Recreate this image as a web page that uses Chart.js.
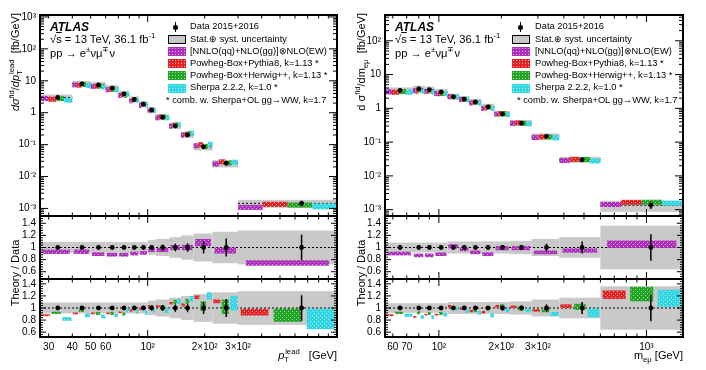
<!DOCTYPE html>
<html>
<head>
<meta charset="utf-8">
<title>WW fiducial differential cross sections</title>
<script src="https://cdn.jsdelivr.net/npm/chart.js@4.4.1/dist/chart.umd.min.js"></script>
<style>
  body { margin: 0; background: #fff; }
  #wrap { position: relative; width: 706px; height: 370px; overflow: hidden;
          font-family: "Liberation Sans", Arial, Helvetica, sans-serif; color: #000; }
  #wrap canvas { position: absolute; }
  .t { position: absolute; white-space: nowrap; line-height: 1; }
  .atlas { font-weight: bold; font-style: italic; font-size: 12px; }
  .lab { font-size: 11.2px; }
  .leg { font-size: 9.3px; }
  .sym { position: absolute; width: 18px; height: 9px; box-sizing: border-box; }
  .gray { background: #c9c9c9; border: 1px solid #000; }
  .hatch { background-image: radial-gradient(circle, rgba(255,255,255,0.6) 0.7px, transparent 0.9px);
           background-size: 3px 3px; }
  .dot { position: absolute; width: 5px; height: 5px; border-radius: 50%; background: #000; }
  .bar { position: absolute; width: 1.5px; height: 10px; background: #000; }
  .ytitle { position: absolute; transform-origin: 0 0; transform: rotate(-90deg);
            white-space: nowrap; font-size: 11px; line-height: 1; }
  .xtitle { position: absolute; white-space: nowrap; font-size: 11px; line-height: 1; }
  sup, sub { font-size: 70%; line-height: 0; }
</style>
</head>
<body>
<div id="wrap">
  <canvas id="ptMain" width="345" height="220" style="left:0;top:0"></canvas>
  <canvas id="ptR1" width="345" height="71" style="left:0;top:212px"></canvas>
  <canvas id="ptR2" width="345" height="95" style="left:0;top:275px"></canvas>
  <canvas id="mMain" width="361" height="220" style="left:345px;top:0"></canvas>
  <canvas id="mR1" width="361" height="71" style="left:345px;top:212px"></canvas>
  <canvas id="mR2" width="361" height="95" style="left:345px;top:275px"></canvas>

  <!-- left panel labels -->
  <div class="t atlas" style="left:50px;top:21px">ATLAS</div>
  <div class="t lab" style="left:50px;top:34px">√<span style="text-decoration:overline">s</span> = 13 TeV, 36.1 fb<sup>-1</sup></div>
  <div class="t lab" style="left:50px;top:48px">pp → e<sup>±</sup>νμ<sup>∓</sup>ν</div>

  <div class="bar" style="left:174.5px;top:22px"></div><div class="dot" style="left:173px;top:24.5px"></div>
  <div class="t leg" style="left:190px;top:22px">Data 2015+2016</div>
  <div class="sym gray" style="left:168px;top:35px"></div>
  <div class="t leg" style="left:190px;top:34.5px">Stat.⊕ syst. uncertainty</div>
  <div class="sym hatch" style="left:168px;top:47px;background-color:rgb(172,48,188)"></div>
  <div class="t leg" style="left:190px;top:46.5px">[NNLO(qq)+NLO(gg)]⊗NLO(EW)</div>
  <div class="sym hatch" style="left:168px;top:59px;background-color:rgb(226,36,36)"></div>
  <div class="t leg" style="left:190px;top:58.5px">Powheg-Box+Pythia8, k=1.13 *</div>
  <div class="sym hatch" style="left:168px;top:71px;background-color:rgb(34,164,38)"></div>
  <div class="t leg" style="left:190px;top:70.5px">Powheg-Box+Herwig++, k=1.13 *</div>
  <div class="sym hatch" style="left:168px;top:83.5px;background-color:rgb(48,214,226)"></div>
  <div class="t leg" style="left:190px;top:83px">Sherpa 2.2.2, k=1.0 *</div>
  <div class="t leg" style="left:166px;top:95.5px">* comb. w. Sherpa+OL gg→WW, k=1.7</div>

  <!-- right panel labels -->
  <div class="t atlas" style="left:395px;top:21px">ATLAS</div>
  <div class="t lab" style="left:395px;top:34px">√<span style="text-decoration:overline">s</span> = 13 TeV, 36.1 fb<sup>-1</sup></div>
  <div class="t lab" style="left:395px;top:48px">pp → e<sup>±</sup>νμ<sup>∓</sup>ν</div>

  <div class="bar" style="left:519.5px;top:22px"></div><div class="dot" style="left:518px;top:24.5px"></div>
  <div class="t leg" style="left:535px;top:22px">Data 2015+2016</div>
  <div class="sym gray" style="left:512px;top:35px"></div>
  <div class="t leg" style="left:535px;top:34.5px">Stat.⊕ syst. uncertainty</div>
  <div class="sym hatch" style="left:512px;top:47px;background-color:rgb(172,48,188)"></div>
  <div class="t leg" style="left:535px;top:46.5px">[NNLO(qq)+NLO(gg)]⊗NLO(EW)</div>
  <div class="sym hatch" style="left:512px;top:59px;background-color:rgb(226,36,36)"></div>
  <div class="t leg" style="left:535px;top:58.5px">Powheg-Box+Pythia8, k=1.13 *</div>
  <div class="sym hatch" style="left:512px;top:71px;background-color:rgb(34,164,38)"></div>
  <div class="t leg" style="left:535px;top:70.5px">Powheg-Box+Herwig++, k=1.13 *</div>
  <div class="sym hatch" style="left:512px;top:83.5px;background-color:rgb(48,214,226)"></div>
  <div class="t leg" style="left:535px;top:83px">Sherpa 2.2.2, k=1.0 *</div>
  <div class="t leg" style="left:517px;top:95.5px">* comb. w. Sherpa+OL gg→WW, k=1.7</div>

  <!-- axis titles -->
  <div class="ytitle" style="left:10px;top:216px;width:203px;text-align:right"><i>dσ</i><sup>fid</sup>/<i>dp</i><sub>T</sub><sup style="margin-left:-0.5em">lead</sup>&nbsp;&nbsp;[fb/GeV]</div>
  <div class="ytitle" style="left:10px;top:333px;width:120px;text-align:center">Theory / Data</div>
  <div class="ytitle" style="left:356px;top:216px;width:203px;text-align:right">d σ<sup>fid</sup>/dm<sub>eμ</sub>&nbsp;&nbsp;[fb/GeV]</div>
  <div class="ytitle" style="left:356px;top:333px;width:120px;text-align:center">Theory / Data</div>
  <div class="xtitle" style="right:369px;top:350px"><i>p</i><sub>T</sub><sup style="margin-left:-0.5em">lead</sup>&nbsp;&nbsp;&nbsp;[GeV]</div>
  <div class="xtitle" style="right:23px;top:350px">m<sub>eμ</sub> [GeV]</div>
</div>

<script>
// leading lepton pT: bin edges [GeV] and measured cross section [fb/GeV]
const ptEdges = [27, 40, 50, 60, 70, 80, 90, 100, 110, 130, 150, 175, 220, 300, 1000];
const ptData = [3.0, 8.0, 7.4, 5.9, 3.9, 2.6, 1.84, 1.2, 0.72, 0.38, 0.20, 0.085, 0.026, 0.00145];
const ptUnc = [0.09, 0.09, 0.09, 0.09, 0.09, 0.09, 0.09, 0.12, 0.14, 0.17, 0.20, 0.23, 0.26, 0.28];
const ptStat = [0.015, 0.015, 0.015, 0.015, 0.02, 0.025, 0.03, 0.04, 0.05, 0.06, 0.07, 0.10, 0.15, 0.21];
// theory / data ratios and their half widths
const ptNnlo = [0.93, 0.93, 0.89, 0.88, 0.88, 0.90, 0.91, 0.96, 0.96, 1.00, 1.00, 1.08, 0.95, 0.745];
const ptNnloErr = [0.035, 0.035, 0.03, 0.03, 0.03, 0.03, 0.03, 0.035, 0.035, 0.04, 0.045, 0.06, 0.05, 0.045];
const ptPythia = [0.88, 0.91, 0.91, 0.91, 0.93, 0.96, 0.99, 1.03, 1.03, 1.08, 1.05, 1.18, 1.11, 0.93];
const ptPythiaErr = [0.015, 0.015, 0.015, 0.015, 0.015, 0.02, 0.02, 0.02, 0.02, 0.02, 0.025, 0.03, 0.03, 0.055];
const ptHerwig = [0.92, 0.96, 0.91, 0.91, 0.90, 0.99, 1.00, 1.02, 1.02, 1.10, 1.11, 1.03, 1.02, 0.88];
const ptHerwigErr = [0.02, 0.025, 0.025, 0.025, 0.025, 0.025, 0.03, 0.03, 0.03, 0.035, 0.04, 0.08, 0.12, 0.11];
const ptSherpa = [0.82, 0.88, 0.86, 0.88, 0.96, 0.94, 0.92, 0.96, 0.96, 1.11, 1.15, 1.20, 1.08, 0.82];
const ptSherpaErr = [0.03, 0.03, 0.03, 0.03, 0.03, 0.03, 0.035, 0.035, 0.04, 0.045, 0.05, 0.06, 0.12, 0.17];

// e-mu invariant mass
const mEdges = [55, 75, 85, 95, 110, 125, 140, 160, 185, 220, 280, 380, 600, 1500];
const mData = [3.4, 3.8, 3.6, 3.05, 2.2, 1.87, 1.56, 1.11, 0.68, 0.365, 0.148, 0.030, 0.00135];
const mUnc = [0.08, 0.08, 0.08, 0.08, 0.10, 0.10, 0.10, 0.10, 0.10, 0.11, 0.14, 0.17, 0.36];
const mStat = [0.015, 0.015, 0.015, 0.015, 0.03, 0.03, 0.03, 0.03, 0.04, 0.04, 0.06, 0.10, 0.22];
const mNnlo = [0.90, 0.87, 0.87, 0.89, 1.02, 0.97, 0.92, 0.89, 0.99, 0.99, 0.92, 0.95, 1.055];
const mNnloErr = [0.03, 0.03, 0.03, 0.03, 0.035, 0.03, 0.03, 0.03, 0.035, 0.035, 0.03, 0.035, 0.06];
const mPythia = [0.88, 0.85, 0.89, 0.89, 1.03, 0.99, 0.95, 0.93, 1.03, 1.02, 0.96, 1.03, 1.22];
const mPythiaErr = [0.015, 0.015, 0.015, 0.015, 0.02, 0.02, 0.02, 0.02, 0.02, 0.02, 0.02, 0.03, 0.07];
const mHerwig = [0.92, 0.92, 0.91, 0.91, 1.00, 1.00, 0.96, 0.99, 1.03, 0.99, 0.96, 1.02, 1.23];
const mHerwigErr = [0.02, 0.025, 0.025, 0.025, 0.025, 0.025, 0.025, 0.03, 0.03, 0.03, 0.03, 0.05, 0.12];
const mSherpa = [0.88, 0.85, 0.85, 0.89, 0.99, 0.95, 0.92, 0.88, 0.96, 0.96, 0.90, 0.92, 1.16];
const mSherpaErr = [0.025, 0.03, 0.03, 0.03, 0.03, 0.03, 0.03, 0.035, 0.03, 0.03, 0.035, 0.07, 0.14];

// tick labels
const ptXTicks = [30, 40, 50, 60, 100, 200, 300];
const ptXLabels = ['30', '40', '50', '60', '10²', '2×10²', '3×10²'];
const mXTicks = [60, 70, 100, 200, 300, 1000];
const mXLabels = ['60', '70', '10²', '2×10²', '3×10²', '10³'];
const ptYTicks = [1e-3, 1e-2, 1e-1, 1, 10, 100, 1000];
const ptYLabels = ['10⁻³', '10⁻²', '10⁻¹', '1', '10', '10²', '10³'];
const mYTicks = [1e-3, 1e-2, 1e-1, 1, 10, 100];
const mYLabels = ['10⁻³', '10⁻²', '10⁻¹', '1', '10', '10²'];
const ratioTicks = [0.6, 0.8, 1, 1.2, 1.4];
const ratioLabels = ['0.6', '0.8', '1', '1.2', '1.4'];

const PURPLE = 'rgb(172,48,188)', RED = 'rgb(226,36,36)', GREEN = 'rgb(34,164,38)', CYAN = 'rgb(48,214,226)';
const BAND = '#c9c9c9';
const FONT = { family: '"Liberation Sans", Arial, sans-serif', size: 10 };

function hatch(ctx, color) {
  const c = document.createElement('canvas');
  c.width = 4; c.height = 4;
  const g = c.getContext('2d');
  g.fillStyle = color;
  g.fillRect(0, 0, 4, 4);
  g.fillStyle = 'rgba(255,255,255,0.55)';
  g.fillRect(0, 0, 1, 1);
  g.fillRect(2, 2, 1, 1);
  return ctx.createPattern(c, 'repeat');
}

function logTicks(min, max) {
  const major = [], minor = [];
  for (let e = Math.floor(Math.log10(min)); e <= Math.ceil(Math.log10(max)); e++) {
    for (let m = 1; m < 10; m++) {
      const v = m * Math.pow(10, e);
      if (v < min * 0.999 || v > max * 1.001) continue;
      (m === 1 ? major : minor).push(v);
    }
  }
  return { major, minor };
}

function linTicks(min, max) {
  const major = [], minor = [];
  for (let k = Math.ceil(min / 0.04 - 1e-6); k <= Math.floor(max / 0.04 + 1e-6); k++) {
    const v = +(k * 0.04).toFixed(2);
    const isMajor = Math.abs(v * 5 - Math.round(v * 5)) < 1e-6;
    (isMajor ? major : minor).push(v);
  }
  return { major, minor };
}

// draws bands, theory boxes, error bars, frame and inward ticks of one panel
function panelPlugin(spec) {
  return {
    id: 'atlasPanel',
    beforeDatasetsDraw(chart) {
      const ctx = chart.ctx, xs = chart.scales.x, ys = chart.scales.y, a = chart.chartArea;
      const main = spec.kind === 'main';
      const px = spec.edges.map(v => xs.getPixelForValue(v));
      const ref = i => main ? spec.data[i] : 1;
      ctx.save();
      ctx.beginPath();
      ctx.rect(a.left, a.top, a.right - a.left, a.bottom - a.top);
      ctx.clip();

      ctx.fillStyle = BAND;
      spec.data.forEach((d, i) => {
        const yc = ys.getPixelForValue(ref(i));
        let y1 = ys.getPixelForValue(ref(i) * (1 + spec.unc[i]));
        let y2 = ys.getPixelForValue(ref(i) * (1 - spec.unc[i]));
        if (main) { y1 = Math.min(y1, yc - 3); y2 = Math.max(y2, yc + 3); }
        ctx.fillRect(px[i], y1, px[i + 1] - px[i], y2 - y1);
      });

      ctx.strokeStyle = '#000';
      ctx.lineWidth = 1;
      ctx.setLineDash([2, 2]);
      ctx.beginPath();
      if (main) {
        spec.data.forEach((d, i) => {
          const y = ys.getPixelForValue(d);
          ctx.moveTo(px[i], y);
          ctx.lineTo(px[i + 1], y);
        });
      } else {
        const y = ys.getPixelForValue(1);
        ctx.moveTo(a.left, y);
        ctx.lineTo(a.right, y);
      }
      ctx.stroke();
      ctx.setLineDash([]);

      const n = spec.theories.length;
      spec.theories.forEach((t, k) => {
        ctx.fillStyle = hatch(ctx, t.color);
        t.vals.forEach((v, i) => {
          const w = (px[i + 1] - px[i]) / n;
          const m = main ? 0 : w * 0.08;
          const x1 = px[i] + k * w + m, x2 = px[i] + (k + 1) * w - m;
          const yc = ys.getPixelForValue(ref(i) * v);
          let y1 = ys.getPixelForValue(ref(i) * (v + t.errs[i]));
          let y2 = ys.getPixelForValue(ref(i) * (v - t.errs[i]));
          if (main) { y1 = Math.min(y1, yc - 2.5); y2 = Math.max(y2, yc + 2.5); }
          ctx.fillRect(x1, y1, x2 - x1, y2 - y1);
        });
      });

      ctx.strokeStyle = '#000';
      ctx.lineWidth = 1.5;
      ctx.beginPath();
      spec.data.forEach((d, i) => {
        const x = xs.getPixelForValue((spec.edges[i] + spec.edges[i + 1]) / 2);
        ctx.moveTo(x, ys.getPixelForValue(ref(i) * (1 + spec.stat[i])));
        ctx.lineTo(x, ys.getPixelForValue(ref(i) * (1 - spec.stat[i])));
      });
      ctx.stroke();
      ctx.restore();
    },
    afterDatasetsDraw(chart) {
      const ctx = chart.ctx, xs = chart.scales.x, ys = chart.scales.y, a = chart.chartArea;
      const main = spec.kind === 'main';
      ctx.save();
      ctx.strokeStyle = '#000';
      ctx.lineWidth = 1;
      ctx.beginPath();
      const xt = logTicks(xs.min, xs.max);
      [[xt.major, 7], [xt.minor, 3.5]].forEach(([vals, len]) => {
        vals.forEach(v => {
          const x = xs.getPixelForValue(v);
          ctx.moveTo(x, a.bottom); ctx.lineTo(x, a.bottom - len);
          ctx.moveTo(x, a.top); ctx.lineTo(x, a.top + len);
        });
      });
      const yt = main ? logTicks(ys.min, ys.max) : linTicks(ys.min, ys.max);
      const yl = main ? [8, 4] : [6, 3];
      [[yt.major, yl[0]], [yt.minor, yl[1]]].forEach(([vals, len]) => {
        vals.forEach(v => {
          const y = ys.getPixelForValue(v);
          ctx.moveTo(a.left, y); ctx.lineTo(a.left + len, y);
          ctx.moveTo(a.right, y); ctx.lineTo(a.right - len, y);
        });
      });
      ctx.stroke();
      ctx.lineWidth = 2;
      ctx.strokeRect(a.left, a.top, a.right - a.left, a.bottom - a.top);
      ctx.restore();
    }
  };
}

function noOverhang(s) {
  s.paddingTop = 0; s.paddingBottom = 0; s.paddingLeft = 0; s.paddingRight = 0;
}

function makePanel(id, spec) {
  const main = spec.kind === 'main';
  const bottomAxis = spec.kind === 'r2';
  const centers = spec.edges.slice(0, -1).map((e, i) => (e + spec.edges[i + 1]) / 2);
  new Chart(document.getElementById(id), {
    type: 'scatter',
    data: {
      datasets: [{
        data: centers.map((c, i) => ({ x: c, y: main ? spec.data[i] : 1 })),
        pointRadius: 2.4,
        pointBackgroundColor: '#000',
        pointBorderWidth: 0
      }]
    },
    options: {
      responsive: false,
      animation: false,
      devicePixelRatio: 1,
      layout: { padding: { top: main ? 15 : 4, bottom: bottomAxis ? 0 : 4, left: 0, right: spec.padRight } },
      plugins: { legend: { display: false }, tooltip: { enabled: false } },
      scales: {
        x: {
          type: 'logarithmic',
          min: spec.xMin,
          max: spec.xMax,
          bounds: 'data',
          display: bottomAxis,
          grid: { display: false, drawTicks: false },
          border: { display: false },
          ticks: {
            autoSkip: false, maxRotation: 0, padding: 4, color: '#000', font: FONT,
            callback: (v, i) => spec.xLabels[i]
          },
          afterBuildTicks: s => { s.ticks = spec.xTicks.map(v => ({ value: v })); },
          afterFit: s => { s.height = bottomAxis ? 33 : 0; noOverhang(s); }
        },
        y: {
          type: main ? 'logarithmic' : 'linear',
          min: spec.yMin,
          max: spec.yMax,
          bounds: 'data',
          grid: { display: false, drawTicks: false },
          border: { display: false },
          ticks: {
            autoSkip: false, padding: 4, color: '#000', font: FONT,
            callback: (v, i) => spec.yLabels[i]
          },
          afterBuildTicks: s => { s.ticks = spec.yTicks.map(v => ({ value: v })); },
          afterFit: s => { s.width = 40; noOverhang(s); }
        }
      }
    },
    plugins: [panelPlugin(spec)]
  });
}

const ptCommon = { edges: ptEdges, data: ptData, unc: ptUnc, stat: ptStat,
  xMin: 27, xMax: 1000, xTicks: ptXTicks, xLabels: ptXLabels, padRight: 8 };
const mCommon = { edges: mEdges, data: mData, unc: mUnc, stat: mStat,
  xMin: 55, xMax: 1500, xTicks: mXTicks, xLabels: mXLabels, padRight: 23 };

makePanel('ptMain', Object.assign({}, ptCommon, {
  kind: 'main', yMin: 5.8e-4, yMax: 1150, yTicks: ptYTicks, yLabels: ptYLabels,
  theories: [
    { vals: ptNnlo, errs: ptNnloErr, color: PURPLE },
    { vals: ptPythia, errs: ptPythiaErr, color: RED },
    { vals: ptHerwig, errs: ptHerwigErr, color: GREEN },
    { vals: ptSherpa, errs: ptSherpaErr, color: CYAN }
  ]
}));
makePanel('ptR1', Object.assign({}, ptCommon, {
  kind: 'r1', yMin: 0.48, yMax: 1.52, yTicks: ratioTicks, yLabels: ratioLabels,
  theories: [{ vals: ptNnlo, errs: ptNnloErr, color: PURPLE }]
}));
makePanel('ptR2', Object.assign({}, ptCommon, {
  kind: 'r2', yMin: 0.52, yMax: 1.48, yTicks: ratioTicks, yLabels: ratioLabels,
  theories: [
    { vals: ptPythia, errs: ptPythiaErr, color: RED },
    { vals: ptHerwig, errs: ptHerwigErr, color: GREEN },
    { vals: ptSherpa, errs: ptSherpaErr, color: CYAN }
  ]
}));

makePanel('mMain', Object.assign({}, mCommon, {
  kind: 'main', yMin: 6.5e-4, yMax: 580, yTicks: mYTicks, yLabels: mYLabels,
  theories: [
    { vals: mNnlo, errs: mNnloErr, color: PURPLE },
    { vals: mPythia, errs: mPythiaErr, color: RED },
    { vals: mHerwig, errs: mHerwigErr, color: GREEN },
    { vals: mSherpa, errs: mSherpaErr, color: CYAN }
  ]
}));
makePanel('mR1', Object.assign({}, mCommon, {
  kind: 'r1', yMin: 0.48, yMax: 1.52, yTicks: ratioTicks, yLabels: ratioLabels,
  theories: [{ vals: mNnlo, errs: mNnloErr, color: PURPLE }]
}));
makePanel('mR2', Object.assign({}, mCommon, {
  kind: 'r2', yMin: 0.52, yMax: 1.48, yTicks: ratioTicks, yLabels: ratioLabels,
  theories: [
    { vals: mPythia, errs: mPythiaErr, color: RED },
    { vals: mHerwig, errs: mHerwigErr, color: GREEN },
    { vals: mSherpa, errs: mSherpaErr, color: CYAN }
  ]
}));
</script>
</body>
</html>
